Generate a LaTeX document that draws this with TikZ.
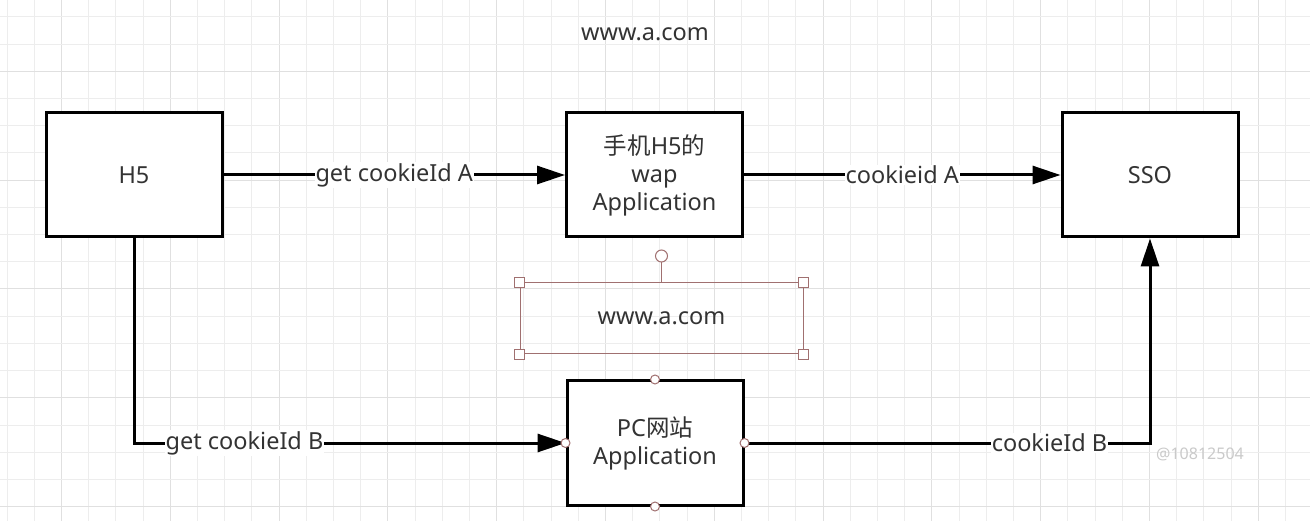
\documentclass[tikz,border=0pt]{standalone}
\usepackage{fontspec}
\setmainfont{Noto Sans}
\newfontfamily\cjk{Noto Sans CJK SC}
\usetikzlibrary{arrows.meta}
\usetikzlibrary{positioning}

\definecolor{gridlight}{HTML}{EDEDED}
\definecolor{griddark}{HTML}{E0E0E0}
\definecolor{txtgray}{HTML}{333333}
\definecolor{selred}{HTML}{A07070}
\definecolor{markgray}{HTML}{CACACA}

\begin{document}
\begin{tikzpicture}[x=1pt,y=-1pt,
  box/.style={draw=black,line width=3pt,fill=white,minimum width=176pt,minimum height=124pt,
    align=center,text=txtgray,font=\fontsize{23.5}{28}\selectfont},
  link/.style={line width=3pt,-{Triangle[length=28pt,width=18pt]}},
  lbl/.style={fill=white,text=txtgray,inner sep=1pt,font=\fontsize{23.5}{26}\selectfont},
  handle/.style={circle,draw=selred,fill=white,inner sep=0pt,minimum size=9pt,line width=1pt},
  corner/.style={rectangle,draw=selred,fill=white,inner sep=0pt,minimum size=10pt,line width=1pt}]

  \useasboundingbox (0,0) rectangle (1310,521);
  \fill[white] (0,0) rectangle (1310,521);

  % background grid
  \foreach \k in {0,...,47} {
    \pgfmathsetmacro{\gx}{7+27.2*\k}
    \pgfmathtruncatemacro{\gm}{mod(\k,4)}
    \ifnum\gm=2 \draw[griddark,line width=1pt] (\gx,0) -- (\gx,521);
    \else \draw[gridlight,line width=1pt] (\gx,0) -- (\gx,521); \fi
  }
  \foreach \k in {0,...,18} {
    \pgfmathsetmacro{\gy}{17+27.2*\k}
    \pgfmathtruncatemacro{\gm}{mod(\k,4)}
    \ifnum\gm=2 \draw[griddark,line width=1pt] (0,\gy) -- (1310,\gy);
    \else \draw[gridlight,line width=1pt] (0,\gy) -- (1310,\gy); \fi
  }

  \node[text=txtgray,font=\fontsize{23.5}{26}\selectfont] (domain) at (645,34) {www.a.com};

  \node[box] (h5)  at (134,175) {H5};
  \node[box] (wap) at (654.5,175) {{\cjk 手机}H5{\cjk 的}\\wap\\Application};
  \node[box] (sso) at (1150,175) {SSO};
  \node[box] (pc)  at (655,443) {PC{\cjk 网站}\\Application};

  \draw[link] (h5) -- node[lbl] {get cookieId A} (wap);
  \draw[link] (wap) -- node[lbl] {cookieid A} (sso);
  \draw[link] (h5.south) |- node[lbl,pos=0.628] {get cookieId B} (pc.west);
  \draw[link] (pc.east) -| node[lbl,pos=0.376] {cookieId B} (sso.south);

  % selected text box
  \node[draw=selred,line width=1pt,minimum width=283pt,minimum height=71pt,
    text=txtgray,font=\fontsize{23.5}{26}\selectfont] (sel) at (661.5,318.5) {www.a.com};
  \node[handle,minimum size=12pt] (rot) at (661.5,256) {};
  \draw[selred,line width=1pt] (rot) -- (sel.north);
  \foreach \a in {north west,north east,south west,south east}
    \node[corner] at (sel.\a) {};

  % connection points of the PC box
  \foreach \a in {north,south,west,east}
    \node[handle] at (pc.\a) {};

  \node[text=markgray,font=\fontsize{16}{18}\selectfont] (mark) at (1200,454) {@10812504};
\end{tikzpicture}
\end{document}
